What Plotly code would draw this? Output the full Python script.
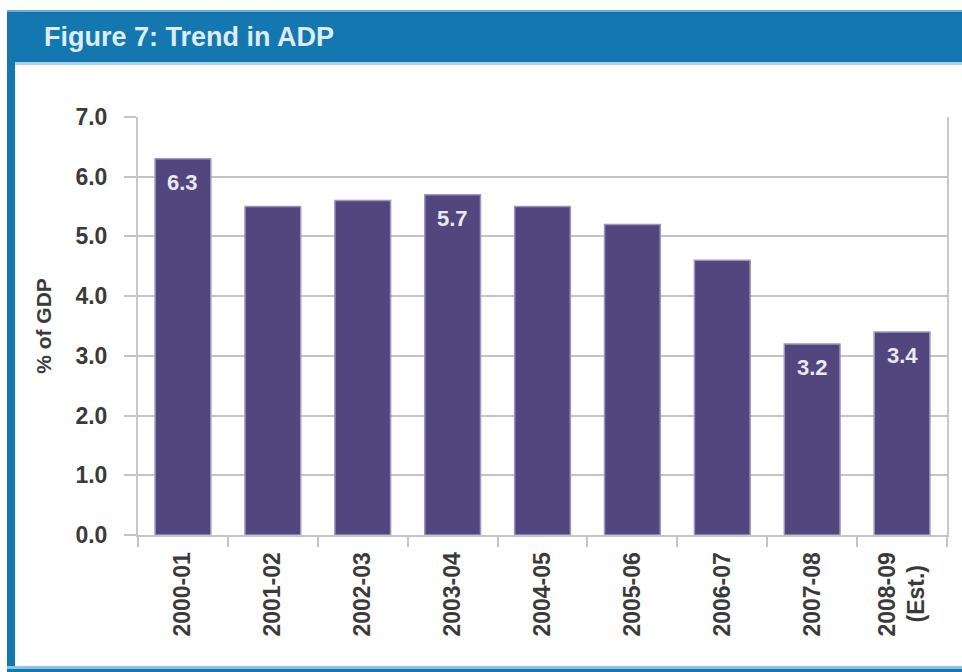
import plotly.graph_objects as go

# Accumulated deficit position (% of GDP) by fiscal year
years = ["2000-01", "2001-02", "2002-03", "2003-04", "2004-05",
         "2005-06", "2006-07", "2007-08", "2008-09<br>(Est.)\u00a0\u00a0"]
adp = [6.3, 5.5, 5.6, 5.7, 5.5, 5.2, 4.6, 3.2, 3.4]
labelled = [True, False, False, True, False, False, False, True, True]

y_ticks = [0, 1, 2, 3, 4, 5, 6, 7]
y_tick_text = ["0.0", "1.0", "2.0", "3.0", "4.0", "5.0", "6.0", "7.0"]

W, H = 962, 672
L, R, T, B = 138, 15, 117, 137
PW, PH = W - L - R, H - T - B


def px(x):
    return (x - L) / PW


def py(y):
    return (H - B - y) / PH


BLUE = "#1577b0"
BAR = "#52467f"
FONT = "Liberation Sans, Arial, sans-serif"

fig = go.Figure()
fig.add_trace(go.Bar(
    x=years, y=adp,
    marker=dict(color=BAR, line=dict(color="#9d94c4", width=1.5)),
    hoverinfo="x+y",
))

annotations = []
for cat, val, show in zip(years, adp, labelled):
    if show:
        annotations.append(dict(
            x=cat, y=val, xref="x", yref="y", text=f"{val:.1f}",
            showarrow=False, yanchor="top", yshift=-9,
            font=dict(family=FONT, size=22, color="#ece8f4", weight="bold"),
        ))

annotations.append(dict(
    x=px(42), y=py(37), xref="paper", yref="paper",
    text="Figure 7: Trend in ADP", showarrow=False,
    xanchor="left", yanchor="middle",
    font=dict(family=FONT, size=27, color="#dcedf7", weight="bold"),
))

shapes = [
    # header band
    dict(type="rect", xref="paper", yref="paper",
         x0=px(7), x1=px(W + 2), y0=py(63), y1=py(10),
         fillcolor=BLUE, line=dict(width=0), layer="below"),
    dict(type="rect", xref="paper", yref="paper",
         x0=px(7), x1=px(W + 2), y0=py(12), y1=py(10),
         fillcolor="#6aaed6", line=dict(width=0)),
    dict(type="rect", xref="paper", yref="paper",
         x0=px(15), x1=px(W + 2), y0=py(65), y1=py(62),
         fillcolor="#a9d3ec", line=dict(width=0)),
    # left frame edge
    dict(type="rect", xref="paper", yref="paper",
         x0=px(7), x1=px(15), y0=py(672), y1=py(62),
         fillcolor=BLUE, line=dict(width=0)),
    # bottom frame edge
    dict(type="rect", xref="paper", yref="paper",
         x0=px(7), x1=px(W + 2), y0=py(669), y1=py(666),
         fillcolor="#8cc3e3", line=dict(width=0)),
    dict(type="rect", xref="paper", yref="paper",
         x0=px(7), x1=px(W + 2), y0=py(674), y1=py(669),
         fillcolor=BLUE, line=dict(width=0)),
]

fig.update_layout(
    width=W, height=H,
    margin=dict(l=L, r=R, t=T, b=B, pad=0),
    paper_bgcolor="white", plot_bgcolor="white",
    showlegend=False, bargap=0.38,
    annotations=annotations, shapes=shapes,
    font=dict(family=FONT, color="#3a3a3a"),
)
fig.update_yaxes(
    range=[0, 7], tickvals=y_ticks, ticktext=y_tick_text,
    showgrid=True, gridcolor="#c4c4c4", gridwidth=2,
    showline=True, linecolor="#c8c8c8", linewidth=2, mirror=True,
    ticks="outside", ticklen=12, tickcolor="#c4c4c4", tickwidth=2,
    ticklabelstandoff=12,
    tickfont=dict(family=FONT, size=23, color="#3a3a3a", weight="bold"),
    title=dict(text="% of GDP", standoff=18,
               font=dict(family=FONT, size=21, color="#3a3a3a", weight="bold")),
    zeroline=False, fixedrange=True,
)
fig.update_xaxes(
    type="category",
    tickangle=-90, tickson="boundaries",
    ticks="outside", ticklen=10, tickcolor="#c4c4c4", tickwidth=2,
    showline=True, linecolor="#c4c4c4", linewidth=2,
    ticklabelstandoff=6,
    tickfont=dict(family=FONT, size=23, color="#3a3a3a", weight="bold"),
    showgrid=False, fixedrange=True,
)

fig.write_html("out.html")
